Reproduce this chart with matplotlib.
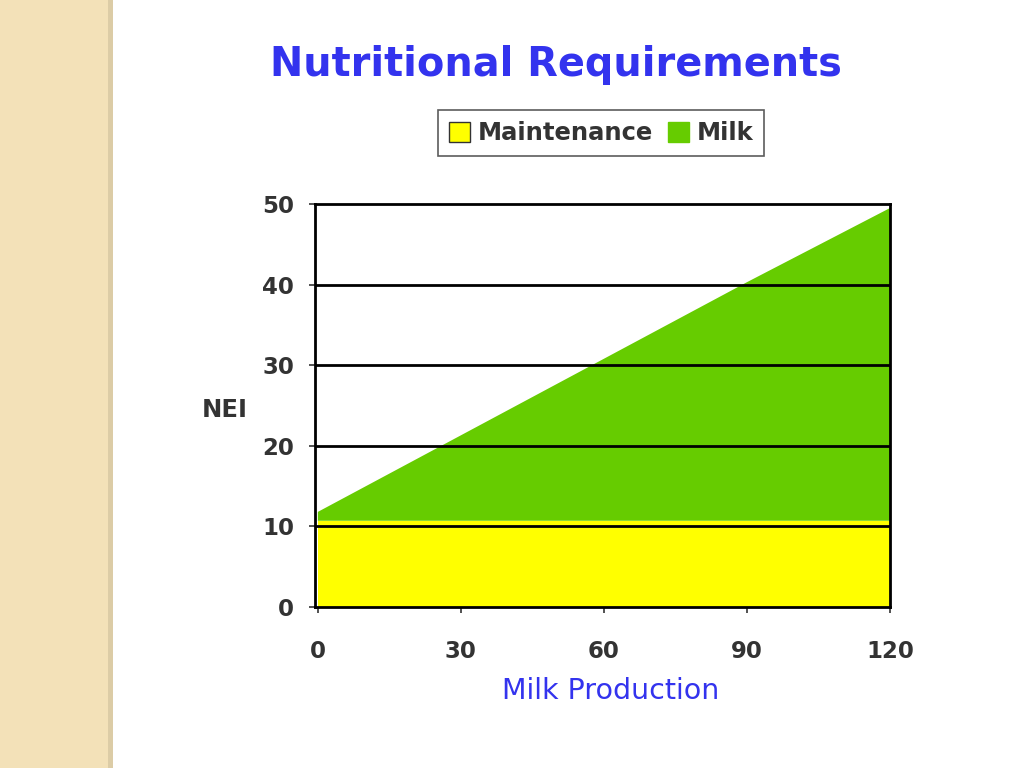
import matplotlib
matplotlib.use("Agg")
import matplotlib.pyplot as plt
from matplotlib.patches import Rectangle, Patch

# Data
milk_production = [0, 30, 60, 90, 120]
maintenance = [10.7, 10.7, 10.7, 10.7, 10.7]
milk = [1.1, 10.6, 20.1, 29.6, 38.8]
x_ticks = [0, 30, 60, 90, 120]
y_ticks = [0, 10, 20, 30, 40, 50]

plt.rcParams['font.family'] = ['DejaVu Sans']

fig = plt.figure(figsize=(10.24, 7.68), dpi=100)
fig.patch.set_facecolor('white')

# left decorative strip
fig.patches.append(Rectangle((0, 0), 110/1024, 1, transform=fig.transFigure,
                             facecolor='#F3E1B8', edgecolor='none', zorder=0))
fig.patches.append(Rectangle((108/1024, 0), 5/1024, 1, transform=fig.transFigure,
                             facecolor='#DCCCA6', edgecolor='none', zorder=0))

ax = fig.add_axes([315/1024, 1 - 607/768, (890 - 315)/1024, (607 - 204)/768])
ax.stackplot(milk_production, maintenance, milk,
             colors=['#FFFF00', '#66CC00'], zorder=1)

for yv in y_ticks[1:-1]:
    ax.axhline(yv, color='black', lw=2, zorder=2)

ax.set_xlim(-0.6, 120)
ax.set_ylim(0, 50)
ax.set_xticks(x_ticks)
ax.set_yticks(y_ticks)
ax.tick_params(axis='both', labelsize=16.5, colors='#333333', length=4, width=1.2)
ax.tick_params(axis='x', pad=20)
ax.tick_params(axis='y', pad=11)
for lab in ax.get_xticklabels() + ax.get_yticklabels():
    lab.set_fontweight('bold')
for s in ax.spines.values():
    s.set_color('black')
    s.set_linewidth(2)
    s.set_zorder(3)

ax.set_xlabel('Milk Production', fontsize=20.5, color='#3333EE')
ax.xaxis.set_label_coords(0.515, -0.173)
ax.set_ylabel('NEI', fontsize=17.5, fontweight='bold', color='#333333',
              rotation=0, va='center', ha='center')
ax.yaxis.set_label_coords(-0.157, 0.49)

fig.text(556/1024, 1 - 65/768, 'Nutritional Requirements', fontsize=28.7,
         fontweight='bold', color='#3333EE', ha='center', va='center')

handles = [Patch(facecolor='#FFFF00', edgecolor='#333333', label='Maintenance'),
           Patch(facecolor='#66CC00', edgecolor='#66CC00', label='Milk')]
leg = fig.legend(handles=handles, loc='center', bbox_to_anchor=(601/1024, 1 - 133/768),
                 ncol=2, prop={'weight': 'bold', 'size': 17.5},
                 frameon=True, fancybox=False, edgecolor='#333333',
                 handlelength=0.9, handleheight=0.9, handletextpad=0.3,
                 columnspacing=0.6, borderpad=0.45)
leg.get_frame().set_linewidth(1.2)
for t in leg.get_texts():
    t.set_color('#333333')

fig.savefig('out.png', dpi=100)
